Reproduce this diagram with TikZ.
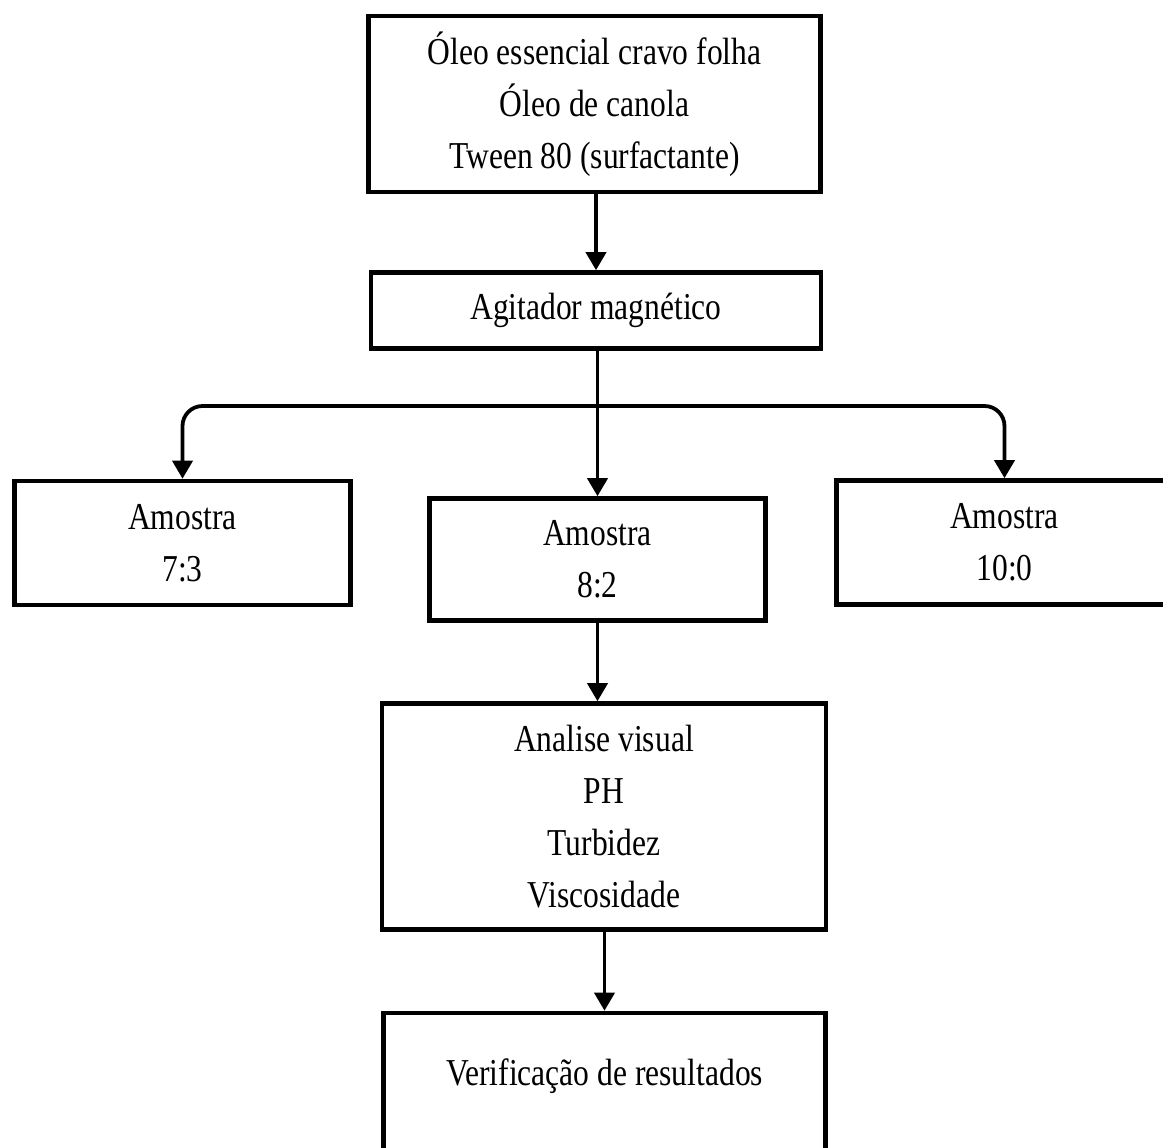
\documentclass[tikz,border=0pt]{standalone}
\usepackage{fontspec}
\setmainfont{Liberation Serif}[FakeStretch=0.83]
\usetikzlibrary{arrows.meta}
\begin{document}
\begin{tikzpicture}[x=0.5pt,y=-0.5pt,
  box/.style={draw=black, line width=2.3pt, fill=white, inner sep=0pt, align=center,
    font=\fontsize{19pt}{26pt}\selectfont},
  conn/.style={line width=1.9pt, -{Triangle[width=10pt,length=9pt]}}]
\useasboundingbox (0,0) rectangle (1163,1147);
\clip (0,0) rectangle (1163,1147);
\fill[white] (0,0) rectangle (1163,1147);

\node[box, minimum width=226pt, minimum height=88pt] (top) at (594.5,104)
  {Óleo essencial cravo folha\\Óleo de canola\\Tween 80 (surfactante)};
\node[box, minimum width=225pt, minimum height=38pt] (agit) at (596,310.5)
  {Agitador magnético};
\node[box, minimum width=168pt, minimum height=62pt] (left) at (182.5,543)
  {Amostra\\7:3};
\node[box, minimum width=168pt, minimum height=61pt] (mid) at (597.5,559.5)
  {Amostra\\8:2};
\node[box, minimum width=168pt, minimum height=62pt] (right) at (1004.5,542.5)
  {Amostra\\10:0};
\node[box, minimum width=222pt, minimum height=113pt] (ana) at (604,816.5)
  {Analise visual\\PH\\Turbidez\\Viscosidade};
\node[box, minimum width=221pt, minimum height=93pt] (ver) at (604.5,1106)
  {Verificação de resultados\\\strut};

\coordinate (j) at (597,406);

\draw[conn] (top.south -| agit.north) -- (agit.north);
\draw[conn] (agit.south -| mid.north) -- (mid.north);
\draw[conn, rounded corners=10pt] (j) -| (left.north);
\draw[conn, rounded corners=10pt] (j) -| (right.north);
\draw[conn] (mid.south) -- (mid.south |- ana.north);
\draw[conn] (ana.south -| ver.north) -- (ver.north);
\end{tikzpicture}
\end{document}
